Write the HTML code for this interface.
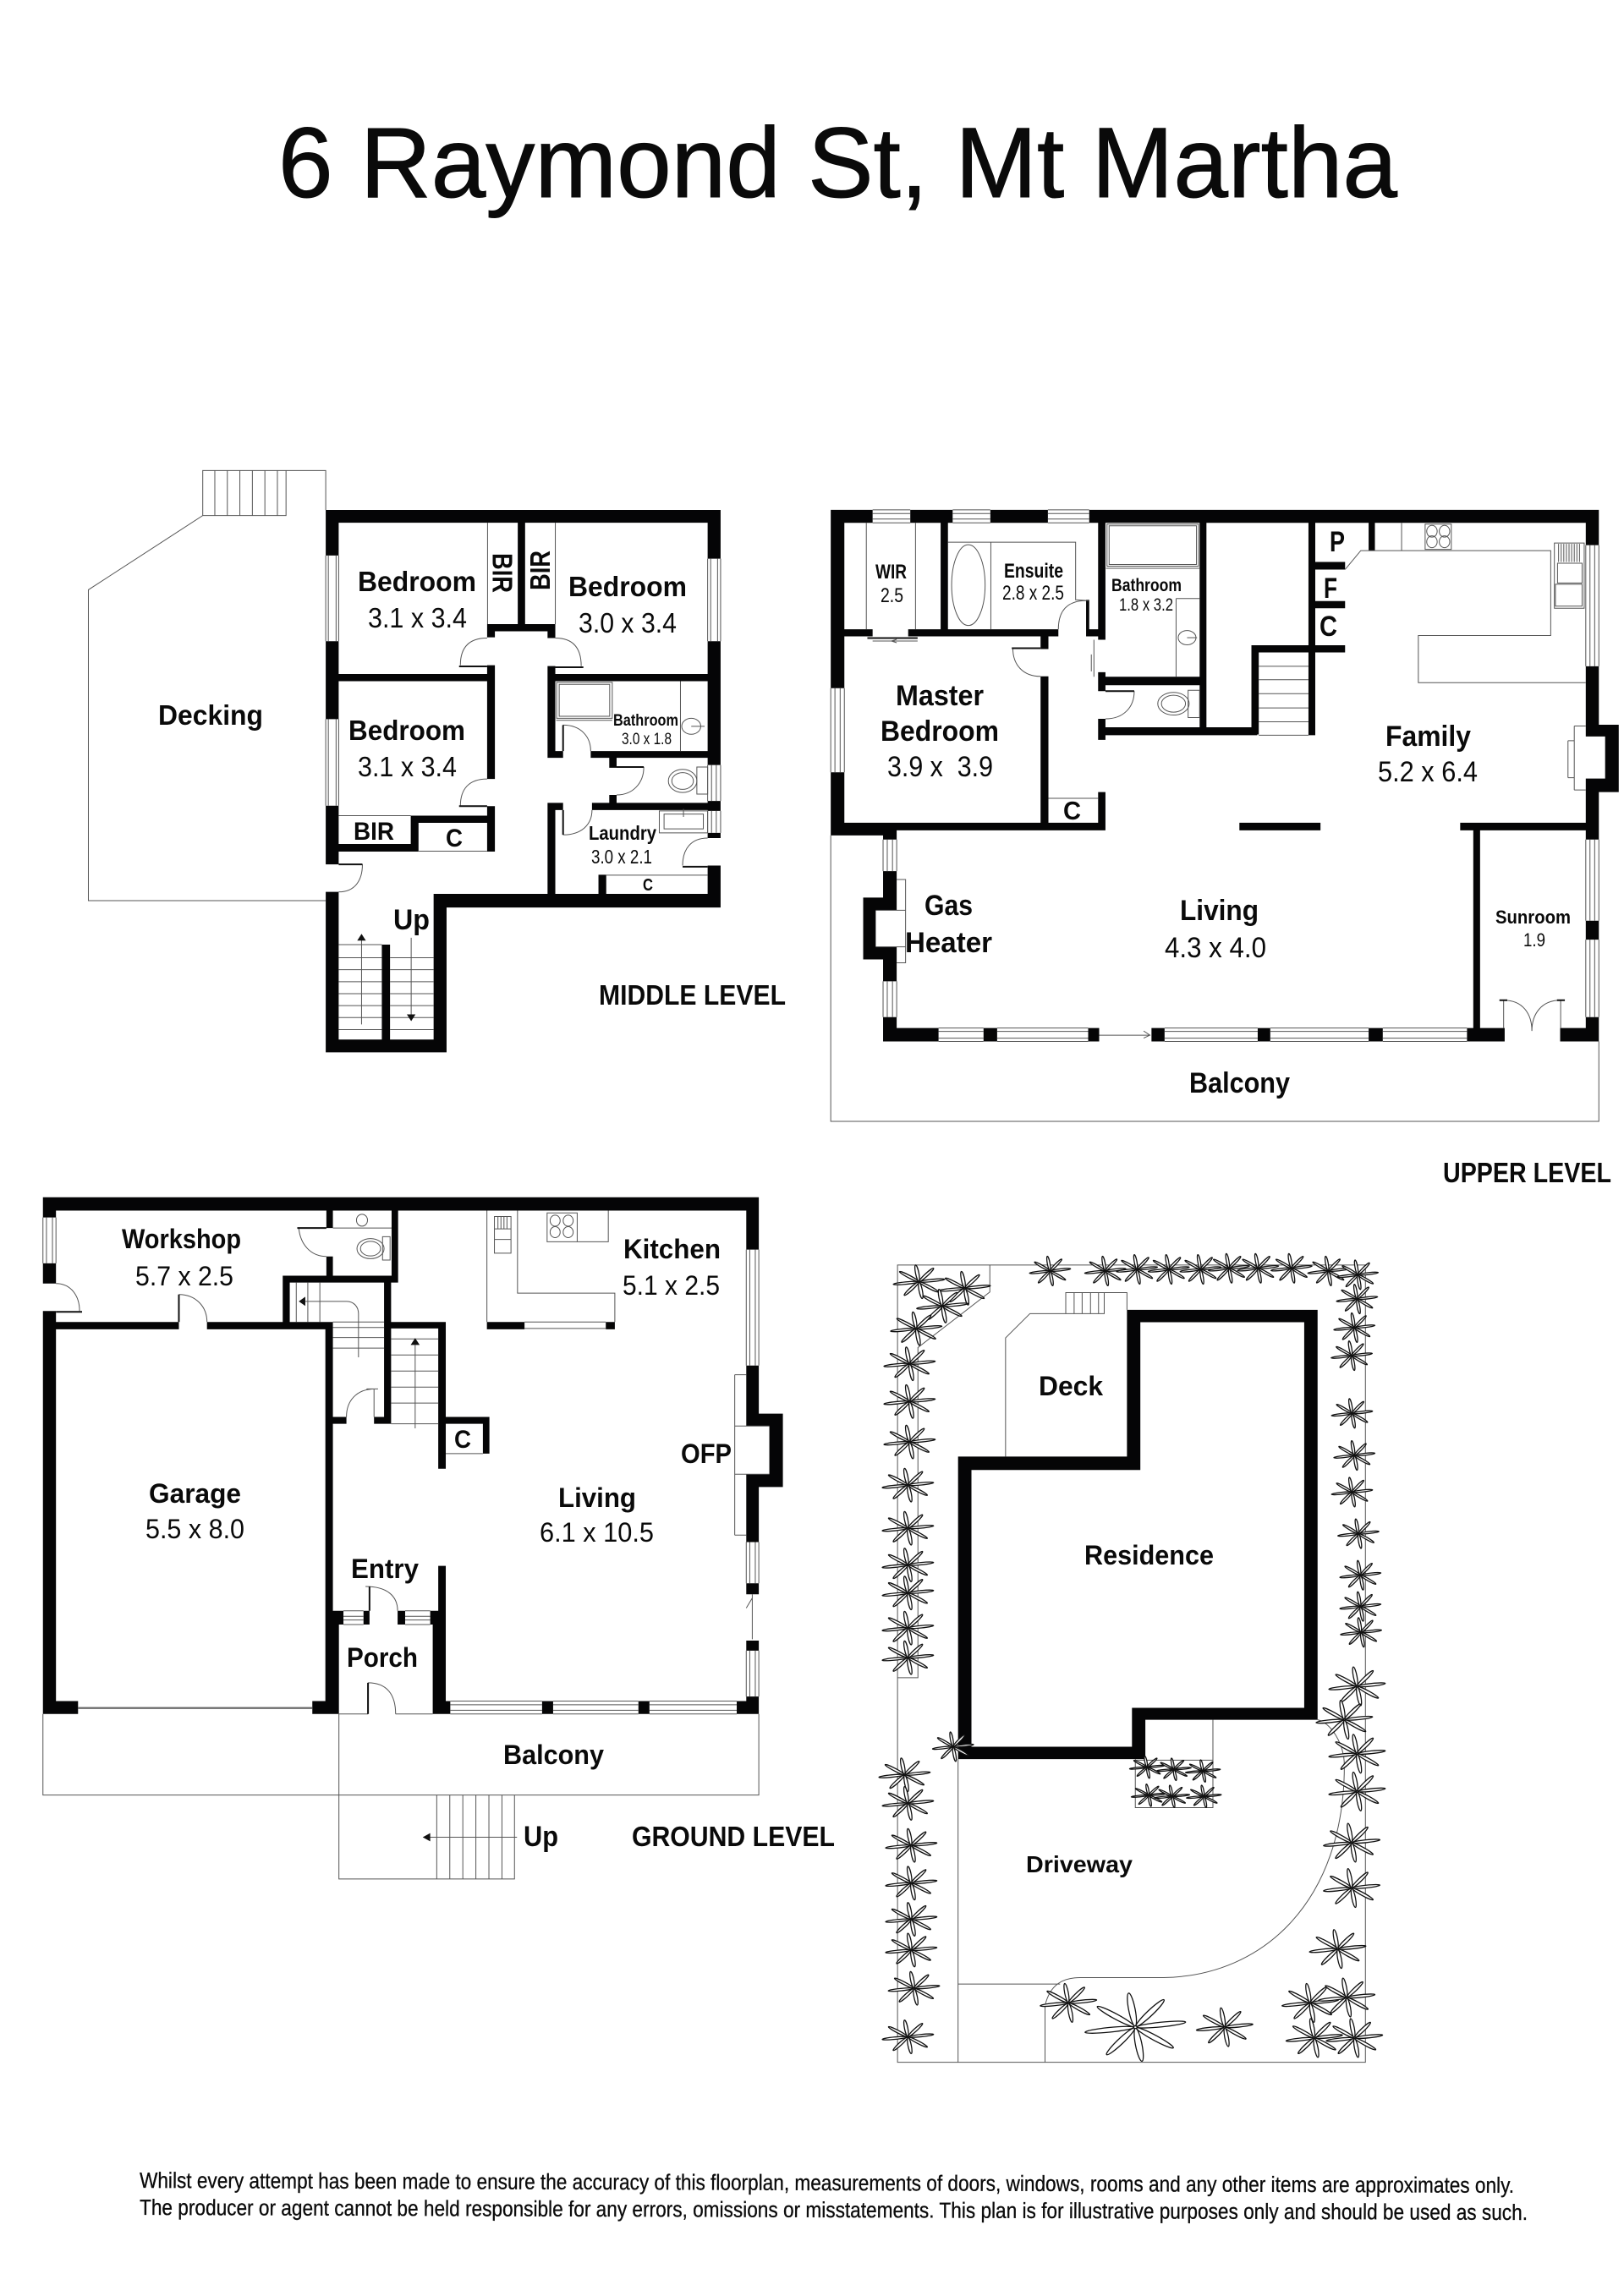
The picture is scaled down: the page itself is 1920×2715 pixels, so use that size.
<!DOCTYPE html>
<html><head><meta charset="utf-8"><title>6 Raymond St, Mt Martha</title>
<style>
html,body{margin:0;padding:0;background:#fff}
svg{display:block}
text{font-family:"Liberation Sans",sans-serif;fill:#0a0a0a}
.b{font-weight:700}
.w{fill:#050506}
.t,.t *{fill:none;stroke:#555;stroke-width:1;vector-effect:non-scaling-stroke}
.k,.k *{fill:none;stroke:#111;stroke-width:2;vector-effect:non-scaling-stroke}
.p ellipse{fill:#fff;stroke:#111;stroke-width:1.3;vector-effect:non-scaling-stroke}
.h{fill:#111}
</style></head><body>
<svg xmlns="http://www.w3.org/2000/svg" width="1920" height="2715" viewBox="0 0 1920 2715">
<rect width="1920" height="2715" fill="#fff"/>
<defs>
<g id="pe" class="p">
<ellipse cx="16" cy="0" rx="15" ry="2" transform="rotate(-8)"/><ellipse cx="15" cy="0" rx="14" ry="2" transform="rotate(37)"/><ellipse cx="15" cy="0" rx="14" ry="2" transform="rotate(82)"/><ellipse cx="15" cy="0" rx="14" ry="2" transform="rotate(127)"/><ellipse cx="16" cy="0" rx="15" ry="2" transform="rotate(172)"/><ellipse cx="15" cy="0" rx="14" ry="2" transform="rotate(217)"/><ellipse cx="15" cy="0" rx="14" ry="2" transform="rotate(262)"/><ellipse cx="15" cy="0" rx="14" ry="2" transform="rotate(307)"/>
</g>
<g id="pt"><use href="#pe" transform="scale(2,.95)"/></g>
<g id="pm"><use href="#pe" transform="scale(2.5,1.08)"/></g>
<g id="pl"><use href="#pe" transform="scale(2.75,1.25)"/></g>
<g id="ps"><use href="#pe" transform="scale(1.7,.72)"/></g>
<g id="pb"><use href="#pe" transform="scale(4.9,2.2)"/></g>
</defs>

<!-- MIDDLE LEVEL -->
<g transform="translate(80,520) scale(.5102,.4719)">
<path class="w" d="M598 176H1513V208H598ZM598 176H628V290H598ZM598 505H628V700H598ZM598 917H628V1064H598ZM598 1133H628V1535H598ZM598 1503H878V1535H598ZM848 1138H878V1535H848ZM728 1265H747V1503H728ZM848 1138H1513V1172H848ZM1483 176H1513V298H1483ZM1483 505H1513V815H1483ZM1483 905H1513V930H1483ZM1483 985H1513V998H1483ZM1483 1067H1513V1172H1483ZM628 587H975V605H628ZM1130 587H1483V605H1130ZM972 565H990V850H972ZM972 918H990V1032H972ZM972 462H1130V480H972ZM972 480H990V495H972ZM1112 480H1130V497H1112ZM1043 208H1060V462H1043ZM1112 567H1130V797H1112ZM1112 780H1148V797H1112ZM1212 780H1483V797H1212ZM1255 797H1272V822H1255ZM1255 890H1272V910H1255ZM1215 910H1483V928H1215ZM1112 910H1148V928H1112ZM1112 910H1130V1138H1112ZM1230 1090H1248V1138H1230ZM795 942H990V960H795ZM795 942H813V1030H795ZM628 1013H813V1032H628Z"/>
<g class="t">
<path d="M598 1155H48V376L313 190V77H598V176"/>
<path d="M313 190H506V77M341 77V190M370 77V190M399 77V190M428 77V190M457 77V190M486 77V190"/>
<path d="M604 290V505M622 290V505M598 290V505M628 290V505M604 700V917M622 700V917M598 700V917M628 700V917M1483 298V505M1490 298V505M1506 298V505M1513 298V505M1483 815V905M1492 815V905M1503 815V905M1513 815V905M1483 930V985M1492 930V985M1503 930V985M1513 930V985"/>
<path d="M973 208V462M1130 208V462M628 942H795M813 1031H972M1248 1091H1483"/>
<path d="M628 1298H728M628 1328H728M628 1358H728M628 1388H728M628 1418H728M628 1448H728M628 1478H728M628 1265H728M747 1298H848M747 1328H848M747 1358H848M747 1388H848M747 1418H848M747 1448H848M747 1478H848M681 1465V1250M796 1248V1445"/>
<path d="M972 497C930 497 910 520 910 565M1130 497C1170 497 1190 520 1190 567M972 850C930 850 910 875 910 918M1148 715C1190 715 1212 745 1212 780M1335 820C1335 860 1310 890 1272 890M1215 928C1215 965 1190 990 1148 990M1483 998C1445 998 1425 1025 1425 1067M683 1064C683 1105 665 1133 628 1133"/>
<path d="M1133 608H1262V698H1133ZM1139 613H1256V693H1139ZM1132 703H1262M1420 605V780"/>
<ellipse cx="1445" cy="718" rx="22" ry="20"/><path d="M1445 718H1476"/>
<ellipse cx="1425" cy="855" rx="33" ry="29"/><ellipse cx="1425" cy="855" rx="25" ry="21"/><path d="M1458 820H1483V888H1458Z"/>
<path d="M1371 930H1483V985H1371ZM1382 938H1473V975H1382ZM1427 925V945"/>
</g>
<g class="k"><path d="M907 568H972M1130 570H1195M907 918H972M1148 715V780M1272 820H1335M1148 928V990M1425 1070H1483M628 1064H683"/></g>
<path class="h" d="M681 1238L671 1255H691ZM796 1457L786 1440H806Z"/>
</g>
<text class="b" x="423" y="699" font-size="33" textLength="140" lengthAdjust="spacingAndGlyphs">Bedroom</text>
<text x="435" y="742" font-size="33" textLength="117" lengthAdjust="spacingAndGlyphs">3.1 x 3.4</text>
<text class="b" x="672" y="705" font-size="33" textLength="140" lengthAdjust="spacingAndGlyphs">Bedroom</text>
<text x="684" y="748" font-size="33" textLength="116" lengthAdjust="spacingAndGlyphs">3.0 x 3.4</text>
<text class="b" transform="translate(582.5,654) rotate(90)" font-size="33" textLength="47" lengthAdjust="spacingAndGlyphs">BIR</text>
<text class="b" transform="translate(650,698) rotate(-90)" font-size="33" textLength="47" lengthAdjust="spacingAndGlyphs">BIR</text>
<text class="b" x="187" y="857" font-size="33" textLength="124" lengthAdjust="spacingAndGlyphs">Decking</text>
<text class="b" x="412" y="875" font-size="33" textLength="138" lengthAdjust="spacingAndGlyphs">Bedroom</text>
<text x="423" y="918" font-size="33" textLength="117" lengthAdjust="spacingAndGlyphs">3.1 x 3.4</text>
<text class="b" x="418" y="993" font-size="30" textLength="48" lengthAdjust="spacingAndGlyphs">BIR</text>
<text class="b" x="527" y="1001" font-size="30" textLength="20" lengthAdjust="spacingAndGlyphs">C</text>
<text class="b" x="725" y="858" font-size="19" textLength="77" lengthAdjust="spacingAndGlyphs">Bathroom</text>
<text x="735" y="880" font-size="19" textLength="59" lengthAdjust="spacingAndGlyphs">3.0 x 1.8</text>
<text class="b" x="696" y="993" font-size="23" textLength="80" lengthAdjust="spacingAndGlyphs">Laundry</text>
<text x="699" y="1021" font-size="23" textLength="72" lengthAdjust="spacingAndGlyphs">3.0 x 2.1</text>
<text class="b" x="760" y="1053" font-size="20" textLength="12" lengthAdjust="spacingAndGlyphs">C</text>
<text class="b" x="465" y="1099" font-size="34" textLength="43" lengthAdjust="spacingAndGlyphs">Up</text>
<text class="b" x="708" y="1188" font-size="33" textLength="221" lengthAdjust="spacingAndGlyphs">MIDDLE LEVEL</text>

<!-- UPPER LEVEL -->
<g transform="translate(950,570) scale(.6186,.4974)">
<path class="w" d="M52 66H132V97H52ZM204 66H285V97H204ZM357 66H467V97H357ZM546 66H1520V97H546ZM52 66H78V490H52ZM52 690H78V840H52ZM52 810H178V840H52ZM78 810H577V828H78ZM1495 66H1520V150H1495ZM1495 438H1520V605H1495ZM1495 705H1520V850H1495ZM1495 1043H1520V1088H1495ZM1495 1272H1520V1330H1495ZM1495 577H1558V605H1495ZM1532 577H1558V737H1532ZM1495 705H1558V737H1495ZM78 350H132V367H78ZM200 350H487V367H200ZM262 97H276V350H262ZM563 97H577V375H563ZM540 350H563V367H540ZM540 280H546V350H540ZM453 367H468V397H453ZM453 462H468V810H453ZM563 737H577V828H563ZM757 97H770V600H757ZM563 463H757V483H563ZM563 452H577V497H563ZM563 563H577V613H563ZM577 583H867V602H577ZM856 388H870V600H856ZM856 388H978V405H856ZM965 97H978V602H965ZM978 190H1035V208H978ZM978 283H1035V300H978ZM978 388H1035V405H978ZM1080 97H1092V163H1080ZM833 810H988V828H833ZM1255 810H1495V828H1255ZM1280 828H1293V1300H1280ZM152 828H178V850H152ZM152 925H178V1018H152ZM114 988H178V1018H114ZM114 988H138V1135H114ZM114 1105H178V1135H114ZM152 1105H178V1187H152ZM152 1272H178V1330H152ZM152 1298H258V1330H152ZM344 1298H370V1330H344ZM544 1298H565V1330H544ZM665 1298H690V1330H665ZM868 1298H892V1330H868ZM1080 1298H1107V1330H1080ZM1268 1298H1340V1330H1268ZM1446 1298H1520V1330H1446Z"/>
<g class="t">
<path d="M52 840V1520H1520V1330"/>
<path d="M132 66H204M132 75H204M132 88H204M132 97H204M285 66H357M285 75H357M285 88H357M285 97H357M467 66H546M467 75H546M467 88H546M467 97H546"/>
<path d="M52 490V690M60 490V690M70 490V690M78 490V690M1495 150V438M1503 150V438M1512 150V438M1520 150V438M1495 850V1043M1503 850V1043M1512 850V1043M1520 850V1043M1495 1088V1272M1503 1088V1272M1512 1088V1272M1520 1088V1272M152 850V925M160 850V925M170 850V925M178 850V925M152 1187V1272M160 1187V1272M170 1187V1272M178 1187V1272"/>
<path d="M258 1298H344M258 1306H344M258 1322H344M258 1330H344M370 1298H544M370 1306H544M370 1322H544M370 1330H544M690 1298H868M690 1306H868M690 1322H868M690 1330H868M892 1298H1080M892 1306H1080M892 1322H1080M892 1330H1080M1107 1298H1268M1107 1306H1268M1107 1322H1268M1107 1330H1268"/>
<path d="M120 97V350M214 97V350M132 378H218M168 378L178 374M168 378L178 382"/>
<path d="M276 143H520V280L545 282M358 143V350"/><ellipse cx="315" cy="245" rx="32" ry="96"/>
<path d="M487 350C487 305 505 282 540 282M400 395C400 435 420 462 453 462"/>
<path d="M468 752H563"/>
<path d="M580 100H755V200H580ZM584 104H751V196H584ZM578 205H757M712 277H757M712 277V463M555 375V463M550 410V450"/>
<ellipse cx="733" cy="370" rx="17" ry="17"/><path d="M733 370H752"/>
<ellipse cx="707" cy="527" rx="30" ry="27"/><ellipse cx="707" cy="527" rx="23" ry="20"/><path d="M735 495H757V560H735Z"/>
<path d="M632 497C632 535 612 563 577 563"/>
<path d="M870 438H965M870 470H965M870 503H965M870 537H965M870 570H965M870 602H965"/>
<path d="M1035 208L1065 163H1428V365H1175V477H1495M1143 97V163"/>
<path d="M1188 100H1238V160H1188Z"/><ellipse cx="1201" cy="117" rx="10" ry="14"/><ellipse cx="1225" cy="117" rx="10" ry="14"/><ellipse cx="1201" cy="142" rx="10" ry="14"/><ellipse cx="1225" cy="142" rx="10" ry="14"/>
<path d="M1435 145H1492V300H1435ZM1441 193H1488V240H1441ZM1437 243H1488V295H1437ZM1443 147V190M1448 147V190M1453 147V190M1458 147V190M1463 147V190M1468 147V190M1473 147V190M1478 147V190M1483 147V190"/>
<path d="M1473 580H1495M1473 732H1495M1473 580V732M1461 615H1473M1461 703H1473M1461 615V703"/>
<path d="M178 945H195V1143H178M138 1018H195M138 1105H195"/>
<path d="M565 1315H660M650 1305L662 1315L650 1322"/>
<path d="M1338 1232C1375 1232 1392 1265 1392 1305M1447 1232C1410 1232 1392 1265 1392 1305"/>
<path d="M1338 1232V1298M1447 1232V1298"/>
</g>
<g class="k"><path d="M398 395H453M122 371H218M577 497H632M1330 1232H1345M1440 1232H1455"/></g>
</g>
<text class="b" x="1035" y="684" font-size="24" textLength="37" lengthAdjust="spacingAndGlyphs">WIR</text>
<text x="1041" y="712" font-size="24" textLength="27" lengthAdjust="spacingAndGlyphs">2.5</text>
<text class="b" x="1187" y="683" font-size="24" textLength="70" lengthAdjust="spacingAndGlyphs">Ensuite</text>
<text x="1185" y="709" font-size="24" textLength="73" lengthAdjust="spacingAndGlyphs">2.8 x 2.5</text>
<text class="b" x="1314" y="699" font-size="21" textLength="83" lengthAdjust="spacingAndGlyphs">Bathroom</text>
<text x="1323" y="722" font-size="21" textLength="64" lengthAdjust="spacingAndGlyphs">1.8 x 3.2</text>
<text class="b" x="1059" y="834" font-size="34" textLength="104" lengthAdjust="spacingAndGlyphs">Master</text>
<text class="b" x="1041" y="876" font-size="34" textLength="140" lengthAdjust="spacingAndGlyphs">Bedroom</text>
<text x="1049" y="918" font-size="34" textLength="125" lengthAdjust="spacingAndGlyphs" xml:space="preserve">3.9 x  3.9</text>
<text class="b" x="1572" y="652" font-size="34" textLength="18" lengthAdjust="spacingAndGlyphs">P</text>
<text class="b" x="1565" y="707" font-size="34" textLength="16" lengthAdjust="spacingAndGlyphs">F</text>
<text class="b" x="1560" y="752" font-size="34" textLength="21" lengthAdjust="spacingAndGlyphs">C</text>
<text class="b" x="1257" y="969" font-size="31" textLength="21" lengthAdjust="spacingAndGlyphs">C</text>
<text class="b" x="1638" y="882" font-size="34" textLength="101" lengthAdjust="spacingAndGlyphs">Family</text>
<text x="1629" y="924" font-size="34" textLength="118" lengthAdjust="spacingAndGlyphs">5.2 x 6.4</text>
<text class="b" x="1093" y="1082" font-size="34" textLength="57" lengthAdjust="spacingAndGlyphs">Gas</text>
<text class="b" x="1070" y="1126" font-size="34" textLength="103" lengthAdjust="spacingAndGlyphs">Heater</text>
<text class="b" x="1395" y="1088" font-size="34" textLength="93" lengthAdjust="spacingAndGlyphs">Living</text>
<text x="1377" y="1132" font-size="34" textLength="120" lengthAdjust="spacingAndGlyphs">4.3 x 4.0</text>
<text class="b" x="1768" y="1092" font-size="22" textLength="89" lengthAdjust="spacingAndGlyphs">Sunroom</text>
<text x="1801" y="1119" font-size="22" textLength="26" lengthAdjust="spacingAndGlyphs">1.9</text>
<text class="b" x="1406" y="1292" font-size="34" textLength="119" lengthAdjust="spacingAndGlyphs">Balcony</text>
<text class="b" x="1706" y="1398" font-size="33" textLength="199" lengthAdjust="spacingAndGlyphs">UPPER LEVEL</text>

<!-- GROUND LEVEL -->
<g transform="translate(30,1380) scale(.5931,.5421)">
<path class="w" d="M35 66H1462V95H35ZM35 66H61V110H35ZM35 210H61V254H35ZM35 314H61V1193H35ZM61 338H306V354H61ZM362 338H612V354H362ZM598 338H613V1165H598ZM598 968H625V1193H598ZM35 1165H105V1193H35ZM572 1165H625V1193H572ZM600 95H613V133H600ZM600 195H613V237H600ZM730 95H743V252H730ZM513 237H743V252H513ZM513 237H527V354H513ZM715 252H729V560H715ZM715 338H838V352H715ZM823 338H838V658H823ZM838 545H925V560H838ZM912 545H925V625H912ZM612 545H640V560H612ZM695 545H729V560H695ZM612 968H634V998H612ZM674 968H686V998H674ZM742 968H757V998H742ZM807 968H838V998H807ZM823 870H838V1193H823ZM812 998H838V1193H812ZM1437 66H1462V180H1437ZM1437 433H1462V565H1437ZM1437 670H1462V818H1437ZM1437 908H1462V932H1437ZM1437 1033H1462V1055H1437ZM1437 1155H1462V1193H1437ZM1437 538H1510V565H1437ZM1483 538H1510V698H1483ZM1437 670H1510V698H1437ZM812 1165H847V1193H812ZM1030 1165H1052V1193H1030ZM1222 1165H1244V1193H1222ZM1418 1165H1462V1193H1418ZM920 338H995V354H920ZM1157 338H1175V354H1157Z"/>
<g class="t">
<path d="M35 1193V1370H1462V1193M625 1193V1553H975V1370"/>
<path d="M820 1370V1553M846 1370V1553M872 1370V1553M898 1370V1553M924 1370V1553M950 1370V1553M980 1462H805"/>
<path d="M105 1179H572M105 1181H572"/>
<path d="M35 110V210M42 110V210M54 110V210M61 110V210M1437 180V433M1444 180V433M1455 180V433M1462 180V433M1437 818V908M1444 818V908M1455 818V908M1462 818V908M1437 1055V1155M1444 1055V1155M1455 1055V1155M1462 1055V1155"/>
<path d="M847 1165H1030M847 1173H1030M847 1185H1030M847 1193H1030M1052 1165H1222M1052 1173H1222M1052 1185H1222M1052 1193H1222M1244 1165H1418M1244 1173H1418M1244 1185H1418M1244 1193H1418M634 968H674M634 980H674M634 988H674M634 998H674M757 968H807M757 980H807M757 988H807M757 998H807M995 338H1157M995 352H1157"/>
<path d="M920 95V338M981 95V275H1175V338M1162 95V163H1040M1040 100H1100V163H1040Z"/>
<ellipse cx="1056" cy="117" rx="10" ry="12"/><ellipse cx="1082" cy="117" rx="10" ry="12"/><ellipse cx="1056" cy="142" rx="10" ry="12"/><ellipse cx="1082" cy="142" rx="10" ry="12"/>
<path d="M935 108H968V188H935ZM935 135H968M935 158H968M942 108V135M948 108V135M954 108V135M960 108V135"/>
<path d="M1414 453H1437M1414 803H1437M1414 453V803M1414 565H1483M1414 670H1483"/>
<path d="M540 252V338M563 252V338M587 252V338M613 338H715M613 350H715M613 372H715M613 395H715M664 415V320C664 305 655 293 640 293H555"/>
<path d="M729 375H823M729 410H823M729 445H823M729 480H823M729 515H823M729 560H823M777 570V388"/>
<path d="M640 545C640 510 660 484 697 484M680 484H703M695 484V545"/>
<path d="M545 133C548 170 570 195 600 195M613 133H730"/>
<ellipse cx="671" cy="116" rx="11" ry="13"/><ellipse cx="688" cy="178" rx="27" ry="22"/><ellipse cx="688" cy="178" rx="20" ry="16"/><path d="M712 152H727V203H712Z"/>
<path d="M306 278C340 278 362 305 362 338M61 254C90 254 108 280 108 314"/>
<path d="M678 915C720 915 742 935 742 968M683 1125C720 1125 738 1150 738 1193M625 1193H683M738 1193H812M838 625H912M1449 932V1030M1449 940L1437 962"/>
</g>
<g class="k"><path d="M542 133H600M61 316H113M306 278V338M686 915V968M683 1125V1193"/></g>
<path class="h" d="M545 293L558 283V303ZM777 373L768 388H786ZM792 1462L807 1453V1471Z"/>
</g>
<text class="b" x="144" y="1476" font-size="32" textLength="141" lengthAdjust="spacingAndGlyphs">Workshop</text>
<text x="160" y="1520" font-size="32" textLength="116" lengthAdjust="spacingAndGlyphs">5.7 x 2.5</text>
<text class="b" x="737" y="1488" font-size="32" textLength="115" lengthAdjust="spacingAndGlyphs">Kitchen</text>
<text x="736" y="1531" font-size="32" textLength="115" lengthAdjust="spacingAndGlyphs">5.1 x 2.5</text>
<text class="b" x="176" y="1777" font-size="32" textLength="109" lengthAdjust="spacingAndGlyphs">Garage</text>
<text x="172" y="1819" font-size="32" textLength="117" lengthAdjust="spacingAndGlyphs">5.5 x 8.0</text>
<text class="b" x="537" y="1712" font-size="30" textLength="20" lengthAdjust="spacingAndGlyphs">C</text>
<text class="b" x="805" y="1730" font-size="32" textLength="60" lengthAdjust="spacingAndGlyphs">OFP</text>
<text class="b" x="660" y="1782" font-size="32" textLength="92" lengthAdjust="spacingAndGlyphs">Living</text>
<text x="638" y="1823" font-size="32" textLength="135" lengthAdjust="spacingAndGlyphs">6.1 x 10.5</text>
<text class="b" x="415" y="1866" font-size="32" textLength="80" lengthAdjust="spacingAndGlyphs">Entry</text>
<text class="b" x="410" y="1971" font-size="32" textLength="84" lengthAdjust="spacingAndGlyphs">Porch</text>
<text class="b" x="595" y="2086" font-size="32" textLength="119" lengthAdjust="spacingAndGlyphs">Balcony</text>
<text class="b" x="619" y="2183" font-size="34" textLength="41" lengthAdjust="spacingAndGlyphs">Up</text>
<text class="b" x="747" y="2183" font-size="33" textLength="240" lengthAdjust="spacingAndGlyphs">GROUND LEVEL</text>

<!-- SITE -->
<g transform="translate(1020,1450) scale(.3954,.6378)">
<g class="t">
<path d="M104 72H1503V1550H104ZM285 988V1550M285 1405H590M545 1550V1445C560 1405 600 1393 650 1393H900C1200 1390 1440 1250 1440 1000C1440 960 1400 920 1360 915"/>
<path d="M380 72V122L165 225V837H104M427 427V207L500 162H607M607 162V123H790V155M607 162H722V123M632 123V162M656 123V162M681 123V162M705 123V162"/>
<path d="M1047 915V1078H815V988M815 990H1047"/>
</g>
<path class="w" fill-rule="evenodd" d="M285 427H790V155H1360V915H845V988H285ZM325 452V965H805V893H1320V178H830V452Z"/>
<use href="#pt" x="560" y="83"/><use href="#pt" x="725" y="83"/><use href="#pt" x="820" y="80"/><use href="#pt" x="915" y="80"/><use href="#pt" x="1010" y="80"/><use href="#pt" x="1095" y="78"/><use href="#pt" x="1182" y="78"/><use href="#pt" x="1282" y="78"/><use href="#pt" x="1392" y="83"/><use href="#pt" x="1480" y="90"/>
<use href="#pt" x="1478" y="135"/><use href="#pt" x="1470" y="188"/><use href="#pt" x="1462" y="240"/><use href="#pt" x="1463" y="347"/><use href="#pt" x="1470" y="425"/><use href="#pt" x="1463" y="493"/><use href="#pt" x="1482" y="570"/><use href="#pt" x="1488" y="647"/><use href="#pt" x="1488" y="705"/><use href="#pt" x="1490" y="753"/>
<use href="#pl" x="1478" y="853"/><use href="#pl" x="1440" y="915"/><use href="#pl" x="1478" y="978"/><use href="#pl" x="1478" y="1048"/><use href="#pl" x="1462" y="1143"/><use href="#pl" x="1462" y="1227"/><use href="#pl" x="1420" y="1340"/><use href="#pl" x="1338" y="1440"/><use href="#pl" x="1447" y="1430"/><use href="#pl" x="1350" y="1505"/><use href="#pl" x="1470" y="1505"/>
<use href="#pm" x="168" y="103"/><use href="#pm" x="305" y="115"/><use href="#pm" x="238" y="148"/><use href="#pm" x="160" y="190"/><use href="#pm" x="140" y="255"/><use href="#pm" x="140" y="325"/><use href="#pm" x="140" y="400"/><use href="#pm" x="135" y="480"/><use href="#pm" x="135" y="560"/><use href="#pm" x="135" y="628"/><use href="#pm" x="135" y="680"/><use href="#pm" x="135" y="745"/><use href="#pm" x="135" y="800"/>
<use href="#pt" x="270" y="965"/><use href="#pm" x="125" y="1017"/><use href="#pm" x="135" y="1070"/><use href="#pm" x="145" y="1148"/><use href="#pm" x="145" y="1218"/><use href="#pm" x="145" y="1285"/><use href="#pm" x="145" y="1342"/><use href="#pm" x="153" y="1413"/><use href="#pm" x="135" y="1503"/>
<use href="#ps" x="850" y="1003"/><use href="#ps" x="930" y="1007"/><use href="#ps" x="1017" y="1010"/><use href="#ps" x="855" y="1055"/><use href="#ps" x="925" y="1057"/><use href="#ps" x="1020" y="1057"/>
<use href="#pl" x="615" y="1440"/><use href="#pb" x="815" y="1485"/><use href="#pl" x="1082" y="1485"/>
</g>
<text class="b" x="1228" y="1650" font-size="32" textLength="76" lengthAdjust="spacingAndGlyphs">Deck</text>
<text class="b" x="1282" y="1850" font-size="32" textLength="153" lengthAdjust="spacingAndGlyphs">Residence</text>
<text class="b" x="1213" y="2214" font-size="28" textLength="126" lengthAdjust="spacingAndGlyphs">Driveway</text>

<!-- TITLE -->
<text x="329" y="233" font-size="118" textLength="1323" lengthAdjust="spacingAndGlyphs" stroke="#0a0a0a" stroke-width="1">6 Raymond St, Mt Martha</text>

<!-- FOOTER -->
<text transform="rotate(.21 167 2587)" x="165" y="2587" font-size="26" textLength="1625" lengthAdjust="spacingAndGlyphs" stroke="#0a0a0a" stroke-width=".3">Whilst every attempt has been made to ensure the accuracy of this floorplan, measurements of doors, windows, rooms and any other items are approximates only.</text>
<text transform="rotate(.21 167 2619)" x="165" y="2619" font-size="26" textLength="1641" lengthAdjust="spacingAndGlyphs" stroke="#0a0a0a" stroke-width=".3">The producer or agent cannot be held responsible for any errors, omissions or misstatements. This plan is for illustrative purposes only and should be used as such.</text>
</svg>
</body></html>
